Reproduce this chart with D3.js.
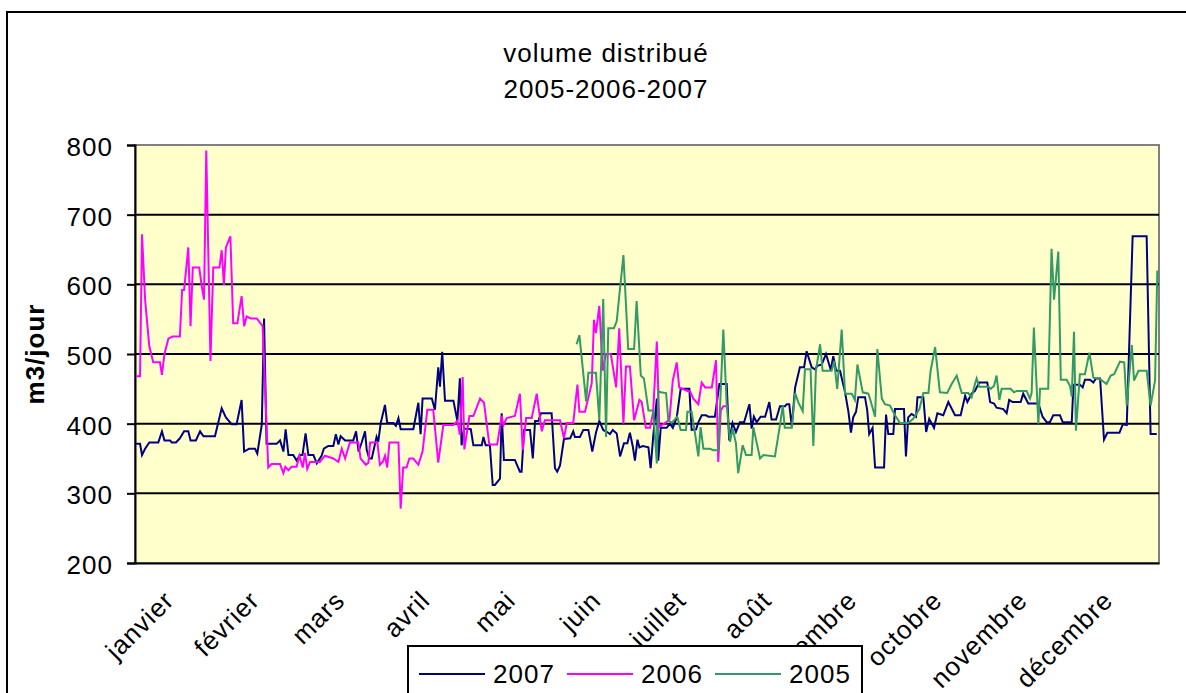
<!DOCTYPE html>
<html>
<head>
<meta charset="utf-8">
<script src="https://cdn.jsdelivr.net/npm/d3@7"></script>
<style>
  body { margin: 0; background: #fff; }
  svg text { font-family: "Liberation Sans", Arial, sans-serif; letter-spacing: 1px; }
</style>
</head>
<body>
<div class="chart"></div>
<script>
var svgWidth = 1186;
var svgHeight = 693;

var plot = { left: 135, right: 1159, top: 145, bottom: 563 };

// month labels on the x axis
var months = ["janvier", "février", "mars", "avril", "mai", "juin", "juillet",
  "août", "septembre", "octobre", "novembre", "décembre"];
var yTicks = [200, 300, 400, 500, 600, 700, 800];
var seriesNames = ["2007", "2006", "2005"];

// day of year / daily volume (m3)
var days2007 = [0.4, 1.8, 2.5, 3.6, 5.1, 8.3, 9.6, 10.5, 12.5, 13.1, 14.6, 16.0, 17.5, 19.0, 19.8, 21.7, 23.2, 24.4, 28.5, 30.9,
  32.4, 34.5, 36.2, 38.0, 38.9, 40.7, 42.8, 43.6, 45.2, 46.0, 46.9, 50.5, 51.7, 52.9, 53.7, 54.7, 56.4, 57.6, 58.8, 59.7,
  60.8, 61.8, 63.6, 64.8, 66.5, 67.3, 68.9, 70.7, 71.6, 72.5, 73.3, 74.9, 77.8, 78.8, 79.7, 80.8, 82.0, 82.6, 83.5, 84.4,
  86.1, 86.7, 87.6, 89.1, 89.9, 92.1, 93.0, 93.9, 94.7, 99.2, 101.0, 101.8, 102.5, 105.8, 106.9, 108.1, 108.7, 109.5, 110.5, 113.5,
  114.9, 115.8, 116.4, 117.3, 119.7, 120.6, 123.6, 124.2, 125.0, 126.5, 127.5, 128.3, 130.1, 130.7, 131.5, 135.4, 137.2, 137.8, 138.7, 140.8,
  141.8, 142.6, 143.8, 144.7, 148.5, 149.7, 150.5, 151.5, 152.9, 155.1, 156.2, 156.8, 158.6, 159.8, 161.6, 163.0, 164.3, 165.5, 166.9, 168.3,
  169.3, 170.3, 171.7, 172.9, 174.3, 175.5, 176.4, 177.4, 178.2, 179.1, 179.8, 181.0, 183.0, 183.8, 184.7, 186.0, 186.5, 187.4, 189.5, 190.7,
  191.7, 193.1, 194.5, 197.6, 198.4, 200.0, 200.8, 202.0, 203.5, 204.4, 206.7, 208.3, 210.9, 211.8, 213.0, 214.2, 215.6, 217.1, 219.0, 219.8,
  220.6, 221.6, 223.0, 224.6, 226.1, 226.9, 228.5, 229.9, 231.7, 232.3, 233.2, 234.1, 235.3, 237.0, 238.5, 239.4, 241.2, 242.4, 243.2, 244.8,
  246.3, 248.0, 248.9, 249.9, 251.3, 253.1, 254.3, 255.2, 256.0, 257.0, 257.8, 260.2, 261.0, 261.7, 262.9, 263.8, 267.0, 267.7, 268.5, 270.3,
  270.9, 274.1, 274.8, 275.6, 276.8, 278.4, 278.9, 281.0, 282.0, 283.1, 284.8, 286.0, 288.1, 289.9, 292.3, 294.3, 295.9, 296.7, 298.2, 299.4,
  300.9, 303.8, 304.8, 306.2, 307.1, 309.5, 310.7, 311.6, 312.8, 315.7, 316.6, 318.4, 322.0, 323.5, 325.0, 326.1, 327.3, 329.7, 330.7, 333.9,
  334.5, 336.8, 337.8, 338.6, 340.4, 341.6, 342.5, 344.0, 345.4, 346.6, 350.9, 352.1, 353.5, 355.6, 360.6, 362.0, 364.2];
var vol2007 = [371, 371, 355, 364, 373, 373, 389, 376, 376, 373, 373, 379, 389, 389, 376, 376, 389, 382, 382, 422,
  409, 399, 399, 434, 360, 364, 364, 357, 399, 551, 371, 371, 376, 360, 392, 355, 355, 347, 355, 355,
  386, 355, 355, 343, 354, 364, 368, 368, 385, 370, 382, 376, 376, 389, 360, 373, 389, 362, 350, 350,
  381, 374, 401, 427, 401, 401, 397, 408, 392, 392, 430, 385, 436, 436, 420, 481, 453, 503, 433, 433,
  404, 465, 369, 393, 392, 369, 369, 381, 369, 369, 312, 312, 321, 415, 348, 348, 331, 331, 391, 391,
  350, 404, 404, 415, 415, 336, 331, 340, 378, 379, 389, 381, 381, 391, 391, 360, 387, 404, 391, 388,
  385, 391, 386, 353, 372, 372, 387, 368, 347, 377, 366, 368, 366, 336, 381, 436, 347, 394, 394, 400,
  394, 409, 450, 450, 391, 392, 402, 412, 412, 410, 410, 457, 457, 376, 401, 388, 402, 402, 428, 393,
  410, 402, 410, 410, 431, 406, 406, 425, 425, 428, 428, 396, 452, 481, 481, 504, 481, 478, 483, 485,
  500, 477, 497, 476, 476, 445, 417, 387, 409, 417, 438, 438, 419, 385, 394, 337, 337, 413, 385, 385,
  421, 421, 353, 409, 414, 410, 438, 438, 388, 407, 394, 415, 412, 431, 412, 412, 440, 431, 443, 447,
  459, 459, 431, 429, 423, 421, 415, 434, 431, 431, 443, 429, 429, 410, 402, 402, 412, 412, 402, 402,
  456, 456, 452, 463, 463, 459, 465, 465, 377, 387, 387, 399, 398, 669, 669, 385, 385];

var days2006 = [0.4, 1.8, 2.5, 3.6, 5.1, 6.5, 8.9, 9.6, 10.5, 11.9, 13.4, 16.0, 16.8, 17.5, 19.0, 19.8, 20.6, 22.9, 23.8, 24.6,
  25.4, 26.9, 27.9, 30.1, 30.9, 31.7, 32.4, 34.0, 35.0, 36.5, 38.0, 38.9, 39.8, 41.2, 43.4, 45.5, 47.5, 48.7, 51.7, 52.9,
  53.6, 54.7, 55.8, 57.6, 58.6, 59.8, 60.6, 61.4, 62.4, 65.9, 67.7, 70.7, 72.5, 73.7, 74.9, 76.6, 79.6, 80.4, 82.3, 83.2,
  83.8, 86.4, 87.3, 88.3, 89.1, 89.9, 90.7, 93.9, 94.7, 95.6, 96.8, 97.8, 99.2, 101.0, 102.5, 104.2, 106.3, 108.1, 109.9, 113.5,
  114.9, 115.8, 116.8, 117.4, 119.2, 120.6, 123.0, 124.4, 126.3, 129.1, 130.7, 131.3, 132.5, 135.4, 137.2, 138.2, 139.4, 141.4, 143.2, 145.0,
  146.1, 151.5, 152.9, 153.9, 156.2, 157.7, 158.4, 160.4, 162.8, 163.6, 164.3, 165.5, 166.7, 167.9, 169.6, 171.5, 172.6, 174.1, 175.0, 176.4,
  177.9, 179.8, 180.6, 182.1, 183.6, 184.7, 186.0, 186.9, 189.3, 190.5, 191.7, 193.1, 194.0, 196.9, 197.8, 199.0, 200.8, 202.0, 203.2, 205.6,
  207.1, 207.9, 208.8, 209.7, 211.5];
var vol2006 = [468, 468, 672, 578, 511, 488, 488, 470, 500, 522, 525, 525, 592, 592, 653, 540, 624, 624, 597, 578,
  792, 490, 624, 624, 649, 599, 653, 669, 544, 544, 583, 540, 554, 551, 551, 540, 337, 342, 342, 329,
  338, 333, 338, 338, 354, 337, 358, 335, 345, 345, 354, 350, 345, 364, 350, 373, 373, 350, 341, 344,
  373, 373, 341, 345, 354, 337, 373, 373, 278, 337, 337, 350, 350, 341, 360, 420, 420, 344, 398, 398,
  404, 384, 467, 363, 411, 411, 436, 430, 370, 370, 411, 398, 408, 411, 443, 362, 408, 408, 443, 389,
  405, 405, 379, 401, 401, 456, 417, 417, 458, 549, 530, 569, 476, 500, 500, 452, 537, 400, 482, 482,
  405, 434, 431, 394, 394, 417, 518, 395, 402, 406, 462, 488, 452, 447, 447, 436, 428, 459, 452, 452,
  491, 345, 419, 425, 425];

var days2005 = [157.4, 158.4, 160.8, 161.6, 164.3, 165.5, 166.9, 167.9, 168.7, 170.7, 171.7, 174.1, 175.8, 177.9, 178.8, 180.3, 181.4, 183.0, 184.7, 186.0,
  186.5, 187.4, 189.3, 190.1, 191.3, 193.3, 194.5, 196.4, 196.9, 198.4, 199.3, 200.8, 201.6, 202.6, 205.0, 206.1, 207.9, 209.7, 210.9, 212.1,
  213.0, 214.2, 215.0, 216.6, 217.8, 219.8, 220.4, 222.8, 224.0, 228.1, 229.7, 230.9, 231.6, 234.1, 235.3, 236.4, 238.0, 238.8, 240.8, 241.8,
  242.7, 244.2, 245.1, 248.3, 249.2, 250.3, 251.9, 253.1, 255.5, 256.6, 257.5, 259.4, 261.4, 262.2, 263.8, 264.6, 266.2, 267.3, 269.1, 270.9,
  272.7, 275.6, 277.4, 279.6, 281.0, 282.8, 283.6, 285.2, 286.9, 289.5, 291.1, 292.9, 294.7, 297.0, 298.2, 299.4, 300.0, 300.9, 304.2, 305.0,
  306.2, 307.1, 308.1, 308.9, 312.1, 313.3, 314.3, 317.8, 319.0, 319.6, 320.4, 322.0, 322.6, 325.5, 326.7, 327.6, 329.1, 330.0, 332.1, 333.3,
  333.9, 334.7, 335.4, 336.8, 338.6, 340.2, 341.6, 344.0, 346.3, 347.8, 349.0, 351.1, 352.6, 353.5, 355.3, 356.1, 357.7, 360.6, 362.0, 363.6,
  364.4];
var vol2005 = [514, 527, 432, 473, 473, 405, 579, 381, 537, 537, 547, 642, 507, 507, 576, 469, 465, 419, 419, 343,
  447, 445, 444, 405, 401, 410, 391, 391, 417, 417, 395, 353, 395, 364, 364, 362, 362, 535, 428, 374,
  393, 372, 329, 369, 355, 355, 395, 350, 355, 353, 393, 426, 394, 394, 444, 431, 418, 478, 478, 368,
  476, 514, 476, 476, 490, 450, 535, 443, 443, 434, 485, 445, 443, 433, 410, 507, 436, 428, 426, 412,
  401, 401, 407, 421, 444, 444, 476, 510, 445, 444, 457, 469, 444, 444, 438, 457, 465, 453, 453, 450,
  454, 469, 434, 450, 450, 445, 447, 447, 436, 444, 538, 400, 450, 450, 651, 578, 647, 463, 463, 454,
  439, 532, 390, 471, 471, 502, 466, 464, 457, 469, 471, 489, 488, 426, 513, 462, 476, 476, 426, 462,
  620];

var colors = ["#000080", "#FF00FF", "#339966"];

var svg = d3.select(".chart")
    .append("svg")
    .attr("width", svgWidth)
    .attr("height", svgHeight);

// chart area frame
svg.append("rect")
  .attr("x", 7).attr("y", 12)
  .attr("width", 1200).attr("height", 720)
  .attr("fill", "#fff")
  .attr("stroke", "#000")
  .attr("stroke-width", 2);

// scales
var xScale = d3.scaleLinear().domain([0, 365]).range([plot.left, plot.right]);
var xBand = d3.scaleBand().domain(months).range([plot.left, plot.right]);
var yScale = d3.scaleLinear().domain([200, 800]).range([plot.bottom, plot.top]);

// plot background
svg.append("rect")
  .attr("x", plot.left).attr("y", plot.top)
  .attr("width", plot.right - plot.left).attr("height", plot.bottom - plot.top)
  .attr("fill", "#FFFFCC")
  .attr("stroke", "#808080")
  .attr("stroke-width", 2);

// gridlines
svg.append("g")
  .selectAll("line")
  .data(yTicks.filter(d => d > 200 && d < 800))
  .enter()
  .append("line")
  .attr("x1", plot.left).attr("x2", plot.right)
  .attr("y1", d => yScale(d)).attr("y2", d => yScale(d))
  .attr("stroke", "#000")
  .attr("stroke-width", 2);

// y axis
var leftAxis = d3.axisLeft(yScale).tickValues(yTicks).tickSize(8).tickPadding(14);
var yAxisG = svg.append("g")
  .attr("transform", `translate(${plot.left}, 0)`)
  .call(leftAxis);
yAxisG.select(".domain").attr("stroke", "#000").attr("stroke-width", 2);
yAxisG.selectAll(".tick line").attr("stroke", "#000").attr("stroke-width", 2);
yAxisG.selectAll(".tick text")
  .attr("font-size", 26)
  .attr("fill", "#000")
  .attr("dy", "0.4em")
  .style("font-family", "'Liberation Sans', Arial, sans-serif");

// x axis line
var bottomAxis = d3.axisBottom(xScale).tickValues([]).tickSizeOuter(0);
svg.append("g")
  .attr("transform", `translate(0, ${plot.bottom})`)
  .call(bottomAxis)
  .select(".domain").attr("stroke", "#000").attr("stroke-width", 2);

// series lines
var seriesData = [
  d3.zip(days2007, vol2007),
  d3.zip(days2006, vol2006),
  d3.zip(days2005, vol2005)
];
var line = d3.line()
  .x(d => xScale(d[0]))
  .y(d => yScale(d[1]));

svg.append("g")
  .selectAll("path")
  .data(seriesData)
  .enter()
  .append("path")
  .attr("d", line)
  .attr("fill", "none")
  .attr("stroke", (d, i) => colors[i])
  .attr("stroke-width", 2)
  .attr("stroke-linejoin", "miter");

// month labels
svg.append("g")
  .selectAll("text")
  .data(months)
  .enter()
  .append("text")
  .attr("transform", d => `translate(${xBand(d) + xBand.bandwidth() / 2 - 2}, 602) rotate(-45)`)
  .attr("text-anchor", "end")
  .attr("font-size", 26)
  .text(d => d);

// title
svg.append("text")
  .attr("x", 606).attr("y", 62)
  .attr("text-anchor", "middle")
  .attr("font-size", 26)
  .text("volume distribué");
svg.append("text")
  .attr("x", 606).attr("y", 98)
  .attr("text-anchor", "middle")
  .attr("font-size", 26)
  .text("2005-2006-2007");

// y axis title
svg.append("text")
  .attr("transform", "translate(44, 354) rotate(-90)")
  .attr("text-anchor", "middle")
  .attr("font-size", 26)
  .attr("font-weight", "bold")
  .text("m3/jour");

// legend
var legend = svg.append("g");
legend.append("rect")
  .attr("x", 408).attr("y", 646)
  .attr("width", 454).attr("height", 80)
  .attr("fill", "#fff")
  .attr("stroke", "#000")
  .attr("stroke-width", 2);

var items = legend.selectAll("g.item")
  .data(seriesNames)
  .enter()
  .append("g")
  .attr("class", "item")
  .attr("transform", (d, i) => `translate(${419 + i * 148}, 674)`);
items.append("line")
  .attr("x1", 0).attr("x2", 66)
  .attr("stroke", (d, i) => colors[i])
  .attr("stroke-width", 2);
items.append("text")
  .attr("x", 74).attr("y", 9)
  .attr("font-size", 26)
  .text(d => d);
</script>
</body>
</html>
